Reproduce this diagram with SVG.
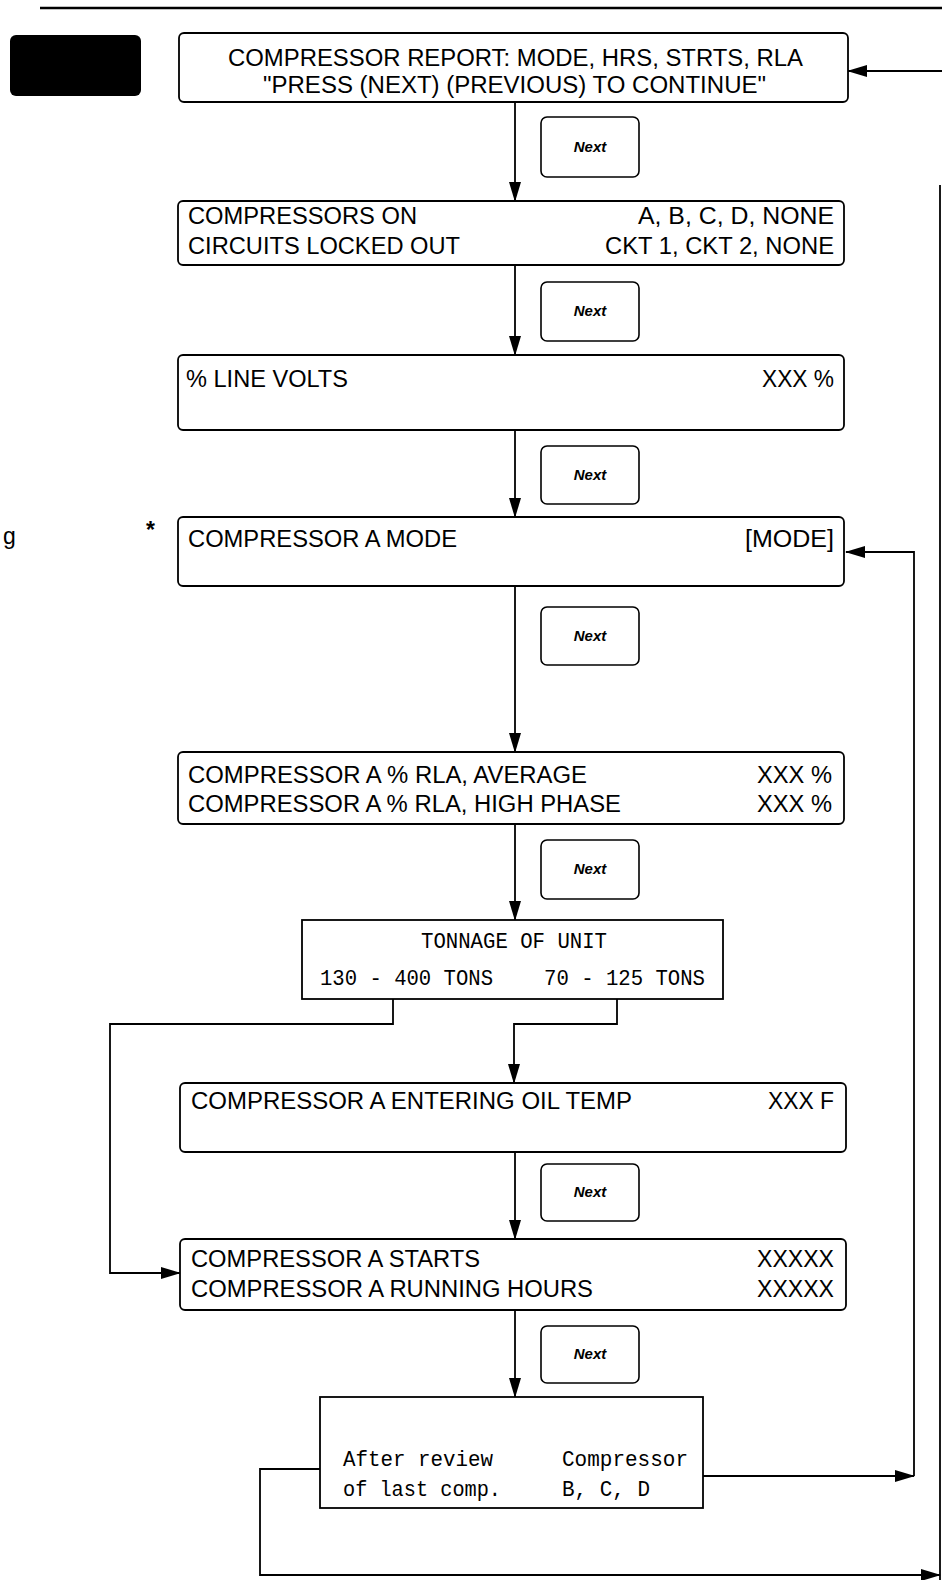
<svg xmlns="http://www.w3.org/2000/svg" width="942" height="1580" viewBox="0 0 942 1580">
<defs>
<marker id="ah" markerUnits="userSpaceOnUse" markerWidth="20" markerHeight="12" refX="19" refY="6" orient="auto">
<path d="M0,0 L20,6 L0,12 Z" fill="#000"/>
</marker>
<style>
.box{fill:#fff;stroke:#000;stroke-width:1.8}
.btn{fill:#fff;stroke:#000;stroke-width:1.6}
.t{font-family:"Liberation Sans",Arial,sans-serif;font-size:23px;fill:#000}
.m{font-family:"Liberation Mono","DejaVu Sans Mono",monospace;font-size:22px;fill:#000}
.n{font-family:"Liberation Sans",Arial,sans-serif;font-size:15px;font-weight:bold;font-style:italic;text-anchor:middle;fill:#000}
.c{fill:none;stroke:#000;stroke-width:1.8}
</style>
</defs>
<rect width="942" height="1580" fill="#fff"/>
<line x1="40" y1="8" x2="942" y2="8" stroke="#000" stroke-width="2.5"/>
<rect x="10" y="35" width="131" height="61" rx="6" fill="#000"/>
<text class="t" x="3" y="544">g</text>
<text class="t" x="146" y="538" style="font-weight:bold">*</text>

<g id="connectors">
<line class="c" x1="515" y1="102" x2="515" y2="201" marker-end="url(#ah)"/>
<line class="c" x1="515" y1="265" x2="515" y2="355" marker-end="url(#ah)"/>
<line class="c" x1="515" y1="430" x2="515" y2="517" marker-end="url(#ah)"/>
<line class="c" x1="515" y1="586" x2="515" y2="752" marker-end="url(#ah)"/>
<line class="c" x1="515" y1="824" x2="515" y2="920" marker-end="url(#ah)"/>
<polyline class="c" points="393,999 393,1024 110,1024 110,1273 180,1273" marker-end="url(#ah)"/>
<polyline class="c" points="617,999 617,1024 514,1024 514,1083" marker-end="url(#ah)"/>
<line class="c" x1="515" y1="1152" x2="515" y2="1239" marker-end="url(#ah)"/>
<line class="c" x1="515" y1="1310" x2="515" y2="1397" marker-end="url(#ah)"/>
<line class="c" x1="942" y1="71" x2="848" y2="71" marker-end="url(#ah)"/>
<line class="c" x1="703" y1="1476" x2="914" y2="1476" marker-end="url(#ah)"/>
<polyline class="c" points="914,1476 914,552 846,552" marker-end="url(#ah)"/>
<polyline class="c" points="320,1469 260,1469 260,1575 940,1575" marker-end="url(#ah)"/>
<line class="c" x1="940" y1="185" x2="940" y2="1580"/>
</g>

<g id="n1">
<rect class="box" x="179" y="33" width="669" height="69" rx="5"/>
<text class="t" x="228" y="66" textLength="575" lengthAdjust="spacingAndGlyphs">COMPRESSOR REPORT: MODE, HRS, STRTS, RLA</text>
<text class="t" x="263" y="93" textLength="503" lengthAdjust="spacingAndGlyphs">"PRESS (NEXT) (PREVIOUS) TO CONTINUE"</text>
</g>
<g id="b1"><rect class="btn" x="541" y="117" width="98" height="60" rx="6"/><text class="n" x="590" y="152">Next</text></g>

<g id="n2">
<rect class="box" x="178" y="201" width="666" height="64" rx="5"/>
<text class="t" x="188" y="224" textLength="229" lengthAdjust="spacingAndGlyphs">COMPRESSORS ON</text>
<text class="t" x="638" y="224" textLength="196" lengthAdjust="spacingAndGlyphs">A, B, C, D, NONE</text>
<text class="t" x="188" y="254" textLength="272" lengthAdjust="spacingAndGlyphs">CIRCUITS LOCKED OUT</text>
<text class="t" x="605" y="254" textLength="229" lengthAdjust="spacingAndGlyphs">CKT 1, CKT 2, NONE</text>
</g>
<g id="b2"><rect class="btn" x="541" y="282" width="98" height="59" rx="6"/><text class="n" x="590" y="316">Next</text></g>

<g id="n3">
<rect class="box" x="178" y="355" width="666" height="75" rx="5"/>
<text class="t" x="186" y="387" textLength="162" lengthAdjust="spacingAndGlyphs">% LINE VOLTS</text>
<text class="t" x="762" y="387" textLength="72" lengthAdjust="spacingAndGlyphs">XXX %</text>
</g>
<g id="b3"><rect class="btn" x="541" y="446" width="98" height="58" rx="6"/><text class="n" x="590" y="480">Next</text></g>

<g id="n4">
<rect class="box" x="178" y="517" width="666" height="69" rx="5"/>
<text class="t" x="188" y="547" textLength="269" lengthAdjust="spacingAndGlyphs">COMPRESSOR A MODE</text>
<text class="t" x="745" y="547" textLength="89" lengthAdjust="spacingAndGlyphs">[MODE]</text>
</g>
<g id="b4"><rect class="btn" x="541" y="607" width="98" height="58" rx="6"/><text class="n" x="590" y="641">Next</text></g>

<g id="n5">
<rect class="box" x="178" y="752" width="666" height="72" rx="5"/>
<text class="t" x="188" y="783" textLength="399" lengthAdjust="spacingAndGlyphs">COMPRESSOR A % RLA, AVERAGE</text>
<text class="t" x="757" y="783" textLength="75" lengthAdjust="spacingAndGlyphs">XXX %</text>
<text class="t" x="188" y="812" textLength="433" lengthAdjust="spacingAndGlyphs">COMPRESSOR A % RLA, HIGH PHASE</text>
<text class="t" x="757" y="812" textLength="75" lengthAdjust="spacingAndGlyphs">XXX %</text>
</g>
<g id="b5"><rect class="btn" x="541" y="840" width="98" height="59" rx="6"/><text class="n" x="590" y="874">Next</text></g>

<g id="n6">
<rect class="box" x="302" y="920" width="421" height="79"/>
<text class="m" x="421" y="948" textLength="186" lengthAdjust="spacingAndGlyphs">TONNAGE OF UNIT</text>
<text class="m" x="320" y="985" textLength="173" lengthAdjust="spacingAndGlyphs">130 - 400 TONS</text>
<text class="m" x="544" y="985" textLength="161" lengthAdjust="spacingAndGlyphs">70 - 125 TONS</text>
</g>

<g id="n7">
<rect class="box" x="180" y="1083" width="666" height="69" rx="5"/>
<text class="t" x="191" y="1109" textLength="441" lengthAdjust="spacingAndGlyphs">COMPRESSOR A ENTERING OIL TEMP</text>
<text class="t" x="768" y="1109" textLength="66" lengthAdjust="spacingAndGlyphs">XXX F</text>
</g>
<g id="b6"><rect class="btn" x="541" y="1164" width="98" height="57" rx="6"/><text class="n" x="590" y="1197">Next</text></g>

<g id="n8">
<rect class="box" x="180" y="1239" width="666" height="71" rx="5"/>
<text class="t" x="191" y="1267" textLength="289" lengthAdjust="spacingAndGlyphs">COMPRESSOR A STARTS</text>
<text class="t" x="757" y="1267" textLength="77" lengthAdjust="spacingAndGlyphs">XXXXX</text>
<text class="t" x="191" y="1297" textLength="402" lengthAdjust="spacingAndGlyphs">COMPRESSOR A RUNNING HOURS</text>
<text class="t" x="757" y="1297" textLength="77" lengthAdjust="spacingAndGlyphs">XXXXX</text>
</g>
<g id="b7"><rect class="btn" x="541" y="1326" width="98" height="57" rx="6"/><text class="n" x="590" y="1359">Next</text></g>

<g id="n9">
<rect class="box" x="320" y="1397" width="383" height="111"/>
<text class="m" x="343" y="1466" textLength="150" lengthAdjust="spacingAndGlyphs">After review</text>
<text class="m" x="562" y="1466" textLength="126" lengthAdjust="spacingAndGlyphs">Compressor</text>
<text class="m" x="343" y="1496" textLength="158" lengthAdjust="spacingAndGlyphs">of last comp.</text>
<text class="m" x="562" y="1496" textLength="88" lengthAdjust="spacingAndGlyphs">B, C, D</text>
</g>
</svg>
